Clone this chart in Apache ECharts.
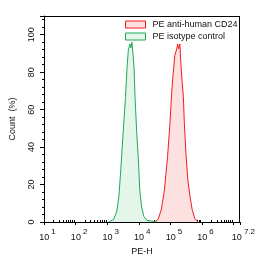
<!DOCTYPE html>
<html>
<head>
<meta charset="utf-8">
<script src="https://cdn.jsdelivr.net/npm/echarts@6/dist/echarts.min.js"></script>
<style>
  html, body { margin: 0; padding: 0; background: #fff; overflow: hidden; }
  #chart { width: 258px; height: 261px; }
</style>
</head>
<body>
<div id="chart"></div>
<script>
// 数据 (x = log10 荧光强度, y = Count %)
const isoLog = [3.05, 3.2, 3.3, 3.37, 3.43, 3.51, 3.58, 3.63, 3.67, 3.72, 3.75, 3.78, 3.82, 3.85, 3.88, 3.93, 3.99, 4.03, 4.09, 4.16, 4.26, 4.41, 4.56];
const isoCount = [0, 1.4, 5.5, 13.6, 28, 49, 67, 83, 92, 95, 93, 96, 89, 82, 67, 49, 32, 17, 8, 3, 0.8, 0.5, 0];
const cd24Log = [4.51, 4.61, 4.71, 4.81, 4.91, 4.98, 5.04, 5.08, 5.14, 5.2, 5.23, 5.26, 5.3, 5.33, 5.37, 5.41, 5.44, 5.49, 5.55, 5.62, 5.69, 5.77, 5.87];
const cd24Count = [0, 1.4, 6.5, 17, 35, 51, 69, 78, 89, 92.5, 95, 92.5, 95, 85, 75, 67, 53, 37, 22.6, 13.6, 6.5, 2, 0];
const xTicks = [1, 2, 3, 4, 5, 6, 7, 7.2];
const xTickLabels = [1, 2, 3, 4, 5, 6, 7.2];
const seriesNames = ["PE anti-human CD24", "PE isotype control"];

// 对数次刻度
const minorTicks = [];
for (let d = 1; d < 8; d++) {
  for (let k = 2; k <= 9; k++) {
    const v = d + Math.log10(k);
    if (v < 7.2) minorTicks.push(v);
  }
}

const pairs = (xs, ys) => xs.map((x, i) => [x, ys[i]]);

const red = "#f21b22", redFill = "#fde1e1";
const green = "#1fa85a", greenFill = "#e4f5ea";
const font = "Liberation Sans, Arial, sans-serif";

const myChart = echarts.init(document.getElementById("chart"));
const option = {
  backgroundColor: "#fff",
  animation: false,
  grid: { left: 39, right: 14, top: 16, bottom: 39 },
  legend: {
    orient: "vertical",
    left: 125, top: 20, padding: 0,
    itemWidth: 20, itemHeight: 7, itemGap: 3,
    icon: "rect",
    textStyle: { fontFamily: font, fontSize: 9, color: "#111", padding: [0, 0, 0, 2] },
    data: [
      { name: seriesNames[0], itemStyle: { color: redFill, borderColor: red, borderWidth: 1 } },
      { name: seriesNames[1], itemStyle: { color: greenFill, borderColor: green, borderWidth: 1 } }
    ]
  },
  xAxis: [
    {
      type: "value", min: 1, max: 7.2,
      name: "PE-H", nameLocation: "middle", nameGap: 24,
      nameTextStyle: { fontFamily: font, fontSize: 9, color: "#111" },
      axisLine: { show: true, onZero: false, lineStyle: { color: "#000", width: 1 } },
      axisTick: { show: true, customValues: xTicks, inside: false, length: 3, lineStyle: { color: "#000" } },
      axisLabel: {
        customValues: xTickLabels, margin: 6,
        formatter: (v) => `{b|10}{s|${v}}`,
        rich: {
          b: { fontFamily: font, fontSize: 9, color: "#111", verticalAlign: "bottom", lineHeight: 14, padding: [0, 0, 0, 7] },
          s: { fontFamily: font, fontSize: 8, color: "#111", verticalAlign: "top", lineHeight: 14, padding: [0, 0, 0, 2] }
        }
      },
      splitLine: { show: false }
    },
    {
      // 次刻度
      type: "value", min: 1, max: 7.2, position: "bottom",
      axisLine: { show: false, onZero: false },
      axisTick: { show: true, customValues: minorTicks, inside: true, length: 2, lineStyle: { color: "#000" } },
      axisLabel: { show: false },
      splitLine: { show: false }
    }
  ],
  yAxis: {
    type: "value", min: 0, max: 110, interval: 20,
    name: "Count  (%)", nameLocation: "middle", nameGap: 27,
    nameTextStyle: { fontFamily: font, fontSize: 9, color: "#111" },
    axisLine: { show: true, onZero: false, lineStyle: { color: "#000", width: 1 } },
    axisTick: { show: true, length: 4, lineStyle: { color: "#000" } },
    minorTick: { show: true, splitNumber: 5, length: 2, lineStyle: { color: "#000" } },
    axisLabel: { rotate: 90, margin: 8, fontFamily: font, fontSize: 9, color: "#111",
      formatter: (v) => (v > 100 ? "" : v) },
    splitLine: { show: false }
  },
  series: [
    {
      name: seriesNames[0], type: "line", showSymbol: false, symbol: "none",
      lineStyle: { color: red, width: 1 },
      itemStyle: { color: redFill, borderColor: red, borderWidth: 1 },
      areaStyle: { color: redFill, opacity: 1 },
      data: pairs(cd24Log, cd24Count)
    },
    {
      name: seriesNames[1], type: "line", showSymbol: false, symbol: "none",
      lineStyle: { color: green, width: 1 },
      itemStyle: { color: greenFill, borderColor: green, borderWidth: 1 },
      areaStyle: { color: greenFill, opacity: 1 },
      data: pairs(isoLog, isoCount)
    }
  ]
};
myChart.setOption(option);

// 外框 (上, 右): 用坐标系换算出绘图区四角, 画成 1px 实心条
const p0 = myChart.convertToPixel({ gridIndex: 0 }, [1, 0]);
const p1 = myChart.convertToPixel({ gridIndex: 0 }, [7.2, 110]);
const L = Math.round(p0[0]), R = Math.round(p1[0]);
const T = Math.round(p1[1]), B = Math.round(p0[1]);
const bar = (x, y, width, height) => ({
  type: "rect", silent: true, z: 10,
  shape: { x, y, width, height },
  style: { fill: "#000" }
});
myChart.setOption({
  graphic: [bar(L, T, R - L, 1), bar(R - 1, T, 1, B - T + 1)]
});
</script>
</body>
</html>
